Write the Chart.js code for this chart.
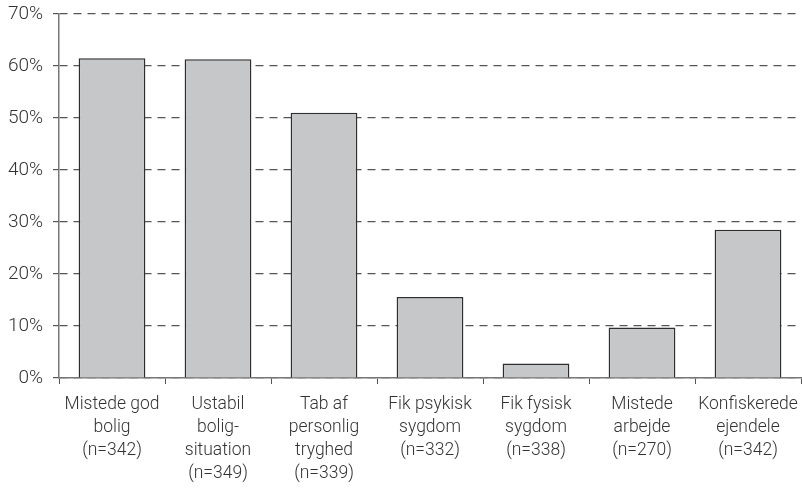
<!DOCTYPE html>
<html>
<head>
<meta charset="utf-8">
<script src="https://cdn.jsdelivr.net/npm/chart.js@4/dist/chart.umd.min.js"></script>
<style>
  html, body { margin: 0; padding: 0; background: #fff; }
  #wrap { width: 802px; height: 489px; }
</style>
</head>
<body>
<div id="wrap"><canvas id="chart"></canvas></div>
<script>
const categories = [
  ['Mistede god', 'bolig', '(n=342)'],
  ['Ustabil', 'bolig-', 'situation', '(n=349)'],
  ['Tab af', 'personlig', 'tryghed', '(n=339)'],
  ['Fik psykisk', 'sygdom', '(n=332)'],
  ['Fik fysisk', 'sygdom', '(n=338)'],
  ['Mistede', 'arbejde', '(n=270)'],
  ['Konfiskerede', 'ejendele', '(n=342)']
];
const shares = [61.5, 61.3, 51.0, 15.6, 2.8, 9.7, 28.5];
const yTicks = [0, 10, 20, 30, 40, 50, 60, 70];

Chart.defaults.font.family = "Roboto, sans-serif";
Chart.defaults.font.weight = '300';
Chart.defaults.color = '#333';

const ctx = document.getElementById('chart').getContext('2d');
new Chart(ctx, {
  type: 'bar',
  data: {
    labels: categories,
    datasets: [{
      data: shares,
      backgroundColor: '#c6c7c9',
      borderColor: '#2e2e2e',
      borderWidth: 1.5,
      categoryPercentage: 1,
      barPercentage: 0.63
    }]
  },
  options: {
    responsive: true,
    maintainAspectRatio: false,
    animation: false,
    layout: { padding: { top: 14, right: 1, left: 0, bottom: 0 } },
    plugins: {
      legend: { display: false },
      tooltip: { enabled: false }
    },
    scales: {
      x: {
        offset: true,
        grid: {
          offset: true,
          drawOnChartArea: false,
          tickLength: 6,
          color: '#555'
        },
        border: { color: '#777', width: 1.5 },
        ticks: {
          font: { size: 17.5, lineHeight: 1.32 },
          padding: 9,
          maxRotation: 0,
          autoSkip: false
        },
        afterFit: (scale) => {
          scale.height = 111;
          scale.paddingLeft = 0;
          scale.paddingRight = 0;
        }
      },
      y: {
        min: 0,
        max: 70,
        afterBuildTicks: (scale) => { scale.ticks = yTicks.map((v) => ({ value: v })); },
        grid: {
          color: '#555',
          lineWidth: 1.2,
          tickLength: 6,
          tickColor: '#555',
          tickWidth: 1.2,
          tickBorderDash: []
        },
        border: { color: '#777', width: 1.5, dash: [8, 6] },
        ticks: {
          font: { size: 19 },
          padding: 10,
          callback: (v) => v + '%'
        },
        afterFit: (scale) => {
          scale.width = 59;
          // let the 70% label overhang the top instead of pushing the plot down
          scale.paddingTop = 0;
          scale.paddingBottom = 0;
        }
      }
    }
  }
});
</script>
</body>
</html>
